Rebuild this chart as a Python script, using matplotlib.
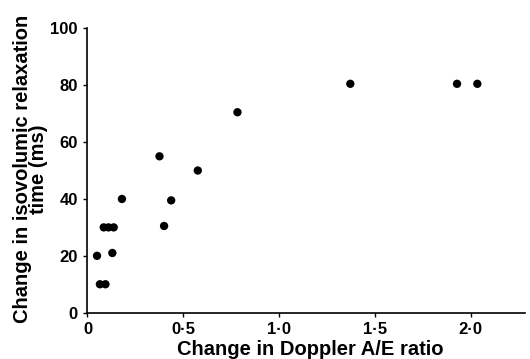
import matplotlib
matplotlib.use("Agg")
import matplotlib.pyplot as plt

plt.rcParams['font.family'] = ['Liberation Sans', 'DejaVu Sans']

# change in Doppler A/E ratio vs change in isovolumic relaxation time (ms)
ae_change = [0.05, 0.13, 0.065, 0.094, 0.085, 0.11, 0.137, 0.18,
             0.376, 0.40, 0.437, 0.576, 0.783, 1.372, 1.929, 2.035]
ivrt_change = [20, 21, 10, 10, 30, 30, 30, 40,
               55, 30.5, 39.5, 50, 70.5, 80.5, 80.5, 80.5]

x_ticks = [0, 0.5, 1.0, 1.5, 2.0]
x_labels = ['0', '0·5', '1·0', '1·5', '2·0']
y_ticks = [0, 20, 40, 60, 80, 100]

fig = plt.figure(figsize=(5.3, 3.59), dpi=100)
ax = fig.add_axes([0.165, 0.129, 0.826, 0.792])

ax.scatter(ae_change, ivrt_change, s=36, color='black', edgecolors='none',
           zorder=3, clip_on=False)

ax.set_xlim(0, 2.285)
ax.set_ylim(0, 100)
ax.set_xticks(x_ticks)
ax.set_xticklabels(x_labels)
ax.set_yticks(y_ticks)

for side in ('top', 'right'):
    ax.spines[side].set_visible(False)
for side in ('left', 'bottom'):
    ax.spines[side].set_linewidth(1.2)

ax.tick_params(direction='out', length=3, width=1, labelsize=12, pad=4)
for lbl in ax.get_xticklabels() + ax.get_yticklabels():
    lbl.set_fontweight('bold')

ax.set_xlabel('Change in Doppler A/E ratio', fontsize=14.5, fontweight='bold')
ax.set_ylabel('Change in isovolumic relaxation\ntime (ms)', fontsize=14.5,
              fontweight='bold', linespacing=0.78)
# labels sit tight against the tick labels, as in the scan
ax.xaxis.set_label_coords(0.508, -0.095)
ax.yaxis.set_label_coords(-0.09, 0.505)

fig.savefig('out.png', dpi=100)
